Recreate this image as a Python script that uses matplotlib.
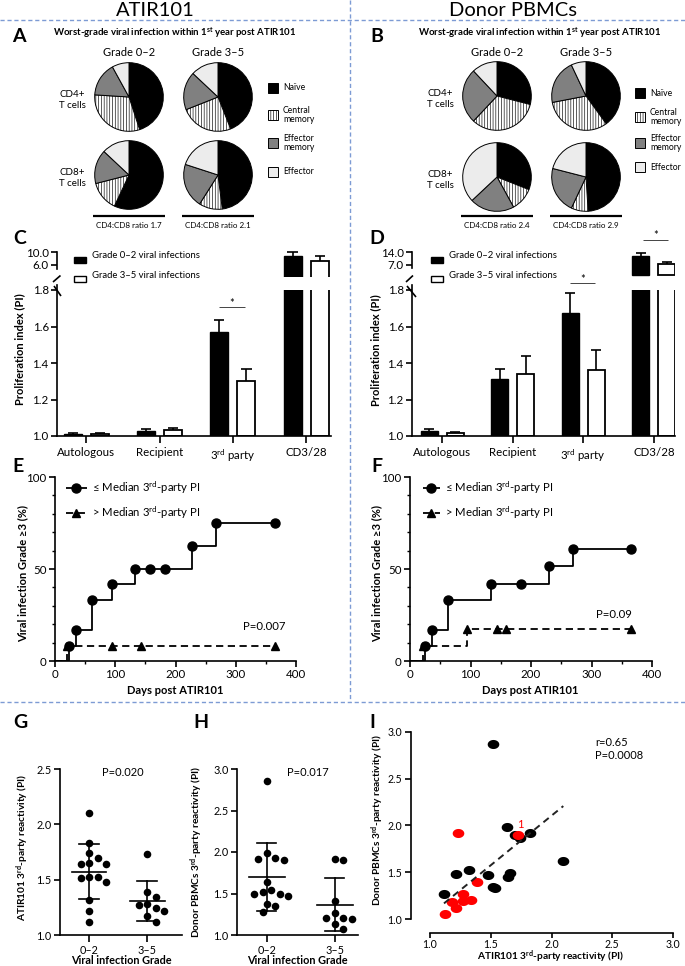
import numpy as np
import matplotlib
matplotlib.use('Agg')
import matplotlib.pyplot as plt
from matplotlib.path import Path
from matplotlib.patches import Rectangle

plt.rcParams['font.family'] = ['Lato', 'DejaVu Sans']
plt.rcParams['mathtext.fontset'] = 'custom'
plt.rcParams['mathtext.rm'] = 'Lato'
plt.rcParams['mathtext.bf'] = 'Lato:bold'
plt.rcParams['mathtext.it'] = 'Lato:italic'
plt.rcParams['hatch.linewidth'] = 0.45

# ---------------- data ----------------
pie_subsets = ['Naïve', 'Central\nmemory', 'Effector\nmemory', 'Effector']
pie_grades = ['Grade 0–2', 'Grade 3–5']
a_cd4_g02 = [45, 31, 16, 8]
a_cd4_g35 = [44, 25, 18, 13]
a_cd8_g02 = [57, 14, 16, 13]
a_cd8_g35 = [48, 11, 21, 20]
b_cd4_g02 = [29, 33, 26, 12]
b_cd4_g35 = [40, 32, 21, 7]
b_cd8_g02 = [31, 11, 21, 37]
b_cd8_g35 = [49, 8, 22, 21]
a_ratios = ['CD4:CD8 ratio 1.7', 'CD4:CD8 ratio 2.1']
b_ratios = ['CD4:CD8 ratio 2.4', 'CD4:CD8 ratio 2.9']

bar_categories = ['Autologous', 'Recipient', '3$^{\\mathrm{rd}}$ party', 'CD3/28']
c_g02 = [1.010, 1.030, 1.570, 8.7]
c_g02_err = [0.006, 0.010, 0.065, 1.3]
c_g35 = [1.012, 1.035, 1.302, 7.3]
c_g35_err = [0.006, 0.008, 0.065, 1.5]
d_g02 = [1.030, 1.310, 1.675, 11.8]
d_g02_err = [0.010, 0.055, 0.110, 1.8]
d_g35 = [1.015, 1.340, 1.360, 7.4]
d_g35_err = [0.006, 0.100, 0.110, 1.1]

# Kaplan-Meier style curves (days, % with grade >=3)
e_le_days = [0, 23, 35, 62, 95, 133, 228, 268, 365]
e_le_pct = [0, 8.3, 16.7, 33.3, 41.7, 50.0, 62.5, 75.0, 75.0]
e_le_mark_days = [23, 35, 62, 95, 133, 158, 183, 228, 268, 365]
e_le_mark_pct = [8.3, 16.7, 33.3, 41.7, 50.0, 50.0, 50.0, 62.5, 75.0, 75.0]
e_gt_days = [0, 20, 365]
e_gt_pct = [0, 8.3, 8.3]
e_gt_mark_days = [20, 94, 143, 365]
e_gt_mark_pct = [8.3, 8.3, 8.3, 8.3]

f_le_days = [0, 25, 36, 62, 134, 229, 270, 365]
f_le_pct = [0, 8.3, 16.7, 33.3, 41.7, 51.4, 61.1, 61.1]
f_le_mark_days = [25, 36, 62, 134, 183, 229, 270, 365]
f_le_mark_pct = [8.3, 16.7, 33.3, 41.7, 41.7, 51.4, 61.1, 61.1]
f_gt_days = [0, 22, 94, 365]
f_gt_pct = [0, 8.3, 17.4, 17.4]
f_gt_mark_days = [22, 94, 143, 159, 365]
f_gt_mark_pct = [8.3, 17.4, 17.4, 17.4, 17.4]

grade_labels = ['0–2', '3–5']
g_g02 = [2.10, 1.83, 1.74, 1.70, 1.65, 1.64, 1.645, 1.525, 1.52, 1.515, 1.48, 1.32, 1.22, 1.12]
g_g35 = [1.73, 1.39, 1.34, 1.28, 1.27, 1.24, 1.22, 1.17, 1.12]
h_g02 = [2.86, 1.99, 1.93, 1.91, 1.90, 1.64, 1.54, 1.52, 1.49, 1.49, 1.47, 1.37, 1.35, 1.28]
h_g35 = [1.92, 1.90, 1.41, 1.27, 1.21, 1.20, 1.19, 1.13, 1.07]

i_black_x = [1.516, 1.631, 1.700, 1.741, 1.823, 2.097, 1.214, 1.324, 1.480, 1.658, 1.645, 1.521, 1.535, 1.115]
i_black_y = [2.865, 1.979, 1.897, 1.861, 1.915, 1.623, 1.480, 1.523, 1.470, 1.488, 1.452, 1.345, 1.327, 1.263]
i_red_x = [1.233, 1.727, 1.384, 1.269, 1.178, 1.274, 1.337, 1.214, 1.123]
i_red_y = [1.915, 1.897, 1.399, 1.263, 1.178, 1.192, 1.199, 1.114, 1.057]
i_fit_x = [1.115, 2.097]
i_fit_y = [1.167, 2.206]

# ---------------- figure helpers ----------------
W, H = 685, 966
fig = plt.figure(figsize=(W / 100, H / 100), dpi=100)


def ax_px(x0, y0, x1, y1, **kw):
    return fig.add_axes([x0 / W, 1 - y1 / H, (x1 - x0) / W, (y1 - y0) / H], **kw)


ov = fig.add_axes([0, 0, 1, 1], zorder=20)
ov.set_xlim(0, W)
ov.set_ylim(H, 0)
ov.axis('off')
ov.patch.set_alpha(0)


def T(x, y, s, **kw):
    kw.setdefault('ha', 'center')
    kw.setdefault('va', 'center')
    ov.text(x, y, s, **kw)


def L(xs, ys, **kw):
    kw.setdefault('color', 'black')
    ov.plot(xs, ys, solid_capstyle='butt', **kw)


TICK = 8.3


def style(ax, lw=1.2, fs=TICK):
    for s in ['top', 'right']:
        ax.spines[s].set_visible(False)
    for s in ['left', 'bottom']:
        ax.spines[s].set_linewidth(lw)
    ax.tick_params(direction='out', length=4, width=lw, labelsize=fs, pad=2)
    ax.patch.set_alpha(0)


SEP = '#7d9bd4'
# separators
L([0, W], [20, 20], color=SEP, lw=1, ls=(0, (3, 2)))
L([0, W], [702, 702], color=SEP, lw=1, ls=(0, (3, 2)))
L([350, 350], [0, 702], color=SEP, lw=1, ls=(0, (3, 2)))
T(155, 10, 'ATIR101', fontsize=14.5)
T(513, 10, 'Donor PBMCs', fontsize=14.5)

# ---------------- pies ----------------
pie_colors = ['black', 'white', '#808080', '#ececec']


def draw_pie(cx, cy, r, fr):
    ax = ax_px(cx - r, cy - r, cx + r, cy + r)
    wedges, _ = ax.pie(fr, colors=pie_colors, startangle=90, counterclock=False,
                       wedgeprops=dict(edgecolor='black', linewidth=0.7))
    wedges[1].set_hatch('||||||')
    ax.set_xlim(-1.02, 1.02)
    ax.set_ylim(-1.02, 1.02)
    ax.axis('off')


def pie_block(x_l, cx1, cx2, cy1, cy2, sets, ratios, title, letter, lx, ly, leg_x, leg_ys, tx):
    r = 35
    draw_pie(cx1, cy1, r, sets[0])
    draw_pie(cx2, cy1, r, sets[1])
    draw_pie(cx1, cy2, r, sets[2])
    draw_pie(cx2, cy2, r, sets[3])
    T(lx, ly, letter, fontsize=14, fontweight='bold')
    T(tx, 33, title, fontsize=6.9, fontweight='bold')
    T(cx1, 52, pie_grades[0], fontsize=8)
    T(cx2, 52, pie_grades[1], fontsize=8)
    T(x_l, cy1 + 3, 'CD4+\nT cells', fontsize=7, linespacing=1.3)
    T(x_l, cy2 + 3, 'CD8+\nT cells', fontsize=7, linespacing=1.3)
    for j, (lab, yy) in enumerate(zip(pie_subsets, leg_ys)):
        rect = Rectangle((leg_x, yy - 5), 10, 10, facecolor=pie_colors[j], edgecolor='black',
                         lw=0.7, hatch='||||||' if j == 1 else None)
        ov.add_patch(rect)
        T(leg_x + 15, yy, lab, fontsize=6.2, ha='left', linespacing=1.1)
    for cx, rt in zip([cx1, cx2], ratios):
        L([cx - 36, cx + 36], [216, 216], lw=1.6)
        T(cx, 225, rt, fontsize=5.8)


pie_block(72, 129, 218, 97, 175, [a_cd4_g02, a_cd4_g35, a_cd8_g02, a_cd8_g35], a_ratios,
          'Worst-grade viral infection within 1$^{\\mathbf{st}}$ year post ATIR101', 'A', 19, 36,
          268, [88, 115, 143, 172], 175)
pie_block(440, 497, 586, 96, 177, [b_cd4_g02, b_cd4_g35, b_cd8_g02, b_cd8_g35], b_ratios,
          'Worst-grade viral infection within 1$^{\\mathbf{st}}$ year post ATIR101', 'B', 377, 37,
          635, [93, 117, 143, 167], 540)

# ---------------- bar panels ----------------


def up_err(ax, xs, ys, es, capw):
    for x, y, e in zip(xs, ys, es):
        ax.plot([x, x], [y, y + e], color='black', lw=1.2, solid_capstyle='butt')
        ax.plot([x - capw, x + capw], [y + e, y + e], color='black', lw=1.2, solid_capstyle='butt')


def bar_panel(xl, xr, xlim, top_lim, top_ticks, top_bounds, g02, g02e, g35, g35e, off, bw):
    axt = ax_px(xl, 249, xr, 277)
    axb = ax_px(xl, 290, xr, 436)
    x = np.arange(len(bar_categories))
    g02 = np.array(g02)
    g35 = np.array(g35)
    for ax, sel in ((axt, lambda v: v > 1.8), (axb, lambda v: v > 0)):
        m1 = sel(g02)
        m2 = sel(g35)
        ax.bar(x[m1] - off, g02[m1] - 1, bottom=1, width=bw, color='black', edgecolor='black', lw=1.0)
        ax.bar(x[m2] + off, g35[m2] - 1, bottom=1, width=bw, color='white', edgecolor='black', lw=1.3)
        up_err(ax, x[m1] - off, g02[m1], np.array(g02e)[m1], 0.07)
        up_err(ax, x[m2] + off, g35[m2], np.array(g35e)[m2], 0.07)
        style(ax)
        ax.set_xlim(*xlim)
    axt.set_ylim(*top_lim)
    axt.set_yticks(top_ticks)
    axt.set_yticklabels(['%.1f' % t for t in top_ticks])
    axt.spines['bottom'].set_visible(False)
    axt.spines['left'].set_bounds(*top_bounds)
    axt.set_xticks([])
    axb.set_ylim(1.0, 1.8)
    axb.set_yticks([1.0, 1.2, 1.4, 1.6, 1.8])
    axb.set_yticklabels(['1.0', '1.2', '1.4', '1.6', '1.8'])
    axb.spines['left'].set_bounds(1.0, 1.83)
    axb.set_xticks(x)
    axb.set_xticklabels(bar_categories, fontsize=TICK)
    axb.tick_params(axis='x', length=5, pad=3)
    return axt, axb


bar_panel(57, 331, (-0.4, 3.34), (2, 11), [6.0, 10.0], (4.7, 10), c_g02, c_g02_err, c_g35, c_g35_err, 0.185, 0.245)
bar_panel(412, 675, (-0.43, 3.3), (0, 15.75), [7.0, 14.0], (5.3, 14), d_g02, d_g02_err, d_g35, d_g35_err, 0.185, 0.24)

T(20, 238, 'C', fontsize=14, fontweight='bold')
T(377, 239, 'D', fontsize=14, fontweight='bold')
T(20, 349, 'Proliferation index (PI)', fontsize=8, fontweight='bold', rotation=90)
T(376, 350, 'Proliferation index (PI)', fontsize=8, fontweight='bold', rotation=90)
for bx in (74, 431):
    ov.add_patch(Rectangle((bx, 256.5), 12, 6.5, facecolor='black', edgecolor='black', lw=1))
    ov.add_patch(Rectangle((bx, 275.5), 12, 6.5, facecolor='white', edgecolor='black', lw=1))
    T(bx + 18, 256, 'Grade 0–2 viral infections', fontsize=6.8, ha='left')
    T(bx + 18, 275, 'Grade 3–5 viral infections', fontsize=6.8, ha='left')
# axis breaks
L([53, 60.5], [282, 275.5], lw=1.2)
L([54, 61], [286, 296], lw=1.2)
L([406, 413], [282, 275.5], lw=1.2)
L([407, 416], [286, 297], lw=1.2)
# significance
L([219, 245], [307, 307], lw=0.7, color='#444444')
T(232, 303, '*', fontsize=8)
L([570, 595], [283, 283], lw=0.7, color='#444444')
T(583, 279, '*', fontsize=8)
L([643, 668], [240, 240], lw=0.7, color='#444444')
T(656, 236, '*', fontsize=8)

# ---------------- KM panels ----------------
dash = (0, (4, 2.5))


def km_panel(xl, xr, le_d, le_p, le_md, le_mp, gt_d, gt_p, gt_md, gt_mp):
    ax = ax_px(xl, 477, xr, 661)
    ax.step(le_d, le_p, where='post', color='black', lw=1.3)
    ax.plot(le_md, le_mp, 'o', color='black', ms=6.5, clip_on=False)
    ax.step(gt_d, gt_p, where='post', color='black', lw=1.3, ls=dash)
    ax.plot(gt_md, gt_mp, '^', color='black', ms=5.5, clip_on=False)
    ax.set_xlim(0, 400)
    ax.set_ylim(0, 100)
    style(ax)
    ax.set_xticks([0, 100, 200, 300, 400])
    ax.set_xticks([50, 150, 250, 350], minor=True)
    ax.set_yticks([0, 50, 100])
    ax.set_yticks(np.arange(10, 100, 10), minor=True)
    ax.tick_params(which='minor', direction='out', length=2.5, width=1.0)
    return ax


km_panel(55, 296, e_le_days, e_le_pct, e_le_mark_days, e_le_mark_pct,
         e_gt_days, e_gt_pct, e_gt_mark_days, e_gt_mark_pct)
km_panel(410, 652, f_le_days, f_le_pct, f_le_mark_days, f_le_mark_pct,
         f_gt_days, f_gt_pct, f_gt_mark_days, f_gt_mark_pct)

leg1 = '≤ Median 3$^{\\mathrm{rd}}$-party PI'
leg2 = '> Median 3$^{\\mathrm{rd}}$-party PI'
for (x0, x1, tx) in [(66, 87, 92), (423, 440, 445)]:
    L([x0, x1], [488, 488], lw=1.3)
    ov.plot([(x0 + x1) / 2], [488], 'o', color='black', ms=6.5)
    T(tx, 488, leg1, fontsize=8.2, ha='left')
    L([x0, x1], [513, 513], lw=1.3, ls=dash)
    ov.plot([(x0 + x1) / 2], [513], '^', color='black', ms=5.5)
    T(tx, 513, leg2, fontsize=8.2, ha='left')
T(18, 466, 'E', fontsize=14, fontweight='bold')
T(377, 467, 'F', fontsize=14, fontweight='bold')
T(23, 573, 'Viral infection Grade ≥3 (%)', fontsize=8, fontweight='bold', rotation=90)
T(377, 573, 'Viral infection Grade ≥3 (%)', fontsize=8, fontweight='bold', rotation=90)
T(175, 690, 'Days post ATIR101', fontsize=8, fontweight='bold')
T(530, 690, 'Days post ATIR101', fontsize=8, fontweight='bold')
T(243, 626, 'P=0.007', fontsize=8.2, ha='left')
T(614, 615, 'P=0.09', fontsize=8.2)

# ---------------- dot plots G, H ----------------


def swarm(vals, center, px_per_x, px_per_y, d=8.5):
    vals = np.asarray(vals, float)
    xs = np.zeros(len(vals))
    placed = []
    cands = [0.0]
    for k in range(1, 12):
        cands += [k * d / 2, -k * d / 2]
    for i in np.argsort(-vals):
        yp = vals[i] * px_per_y
        for c in cands:
            if all(np.hypot(c - p[0], yp - p[1]) >= d * 0.98 for p in placed):
                break
        placed.append((c, yp))
        xs[i] = center + c / px_per_x
    return xs


def dot_panel(xl, xr, yt, yb, ylim, yticks, groups, xlim, half_mean, half_cap):
    ax = ax_px(xl, yt, xr, yb)
    ax.set_xlim(*xlim)
    ax.set_ylim(*ylim)
    ppx = (xr - xl) / (xlim[1] - xlim[0])
    ppy = (yb - yt) / (ylim[1] - ylim[0])
    for gi, vals in enumerate(groups):
        xs = swarm(vals, gi, ppx, ppy)
        ax.scatter(xs, vals, s=30, color='black', zorder=3, clip_on=False, linewidths=0)
        m = np.mean(vals)
        sd = np.std(vals, ddof=1)
        ax.plot([gi - half_mean, gi + half_mean], [m, m], color='black', lw=1.2, zorder=4)
        ax.plot([gi, gi], [m - sd, m + sd], color='black', lw=1.2, zorder=4)
        for yy in (m - sd, m + sd):
            ax.plot([gi - half_cap, gi + half_cap], [yy, yy], color='black', lw=1.2, zorder=4)
    style(ax, fs=7.8)
    ax.set_yticks(yticks)
    ax.set_yticklabels(['%.1f' % t for t in yticks])
    ax.set_xticks([0, 1])
    ax.set_xticklabels(grade_labels)
    ax.tick_params(axis='x', length=5)
    return ax


dot_panel(60, 182, 769, 935, (1.0, 2.5), [1.0, 1.5, 2.0, 2.5], [g_g02, g_g35], (-0.5, 1.6), 0.30, 0.17)
dot_panel(237, 358, 769, 935, (1.0, 3.0), [1.0, 1.5, 2.0, 2.5, 3.0], [h_g02, h_g35], (-0.44, 1.34), 0.26, 0.14)
T(20, 723, 'G', fontsize=14, fontweight='bold')
T(201, 723, 'H', fontsize=14, fontweight='bold')
T(123, 772, 'P=0.020', fontsize=8)
T(308, 772, 'P=0.017', fontsize=8)
T(23, 847, 'ATIR101 3$^{\\mathbf{rd}}$-party reactivity (PI)', fontsize=7.3, fontweight='bold', rotation=90)
T(197, 852, 'Donor PBMCs 3$^{\\mathbf{rd}}$-party reactivity (PI)', fontsize=7.3, fontweight='bold', rotation=90)
T(121, 960, 'Viral infection Grade', fontsize=7.8, fontweight='bold')
T(297, 960, 'Viral infection Grade', fontsize=7.8, fontweight='bold')

# ---------------- correlation I ----------------
axi = ax_px(410.7, 731.7, 673, 933)
axi.set_xlim(0.841, 3.0)
axi.set_ylim(0.851, 3.0)
th = np.linspace(0, 2 * np.pi, 60)
ell = Path(np.column_stack([np.cos(th), 0.78 * np.sin(th)]), closed=True)
axi.scatter(i_black_x, i_black_y, marker=ell, s=70, color='black', linewidths=0, zorder=3)
axi.scatter(i_red_x, i_red_y, marker=ell, s=70, color='#ff0000', linewidths=0, zorder=3)
axi.plot(i_fit_x, i_fit_y, color='#222222', lw=1.4, ls=(0, (3.5, 2.5)), zorder=4)
style(axi, fs=7.6)
axi.tick_params(axis='x', pad=1, length=3.5)
axi.spines['left'].set_bounds(1.0, 3.0)
axi.spines['bottom'].set_bounds(1.0, 3.0)
axi.set_xticks([1.0, 1.5, 2.0, 2.5, 3.0])
axi.set_xticklabels(['1.0', '1.5', '2.0', '2.5', '3.0'])
axi.set_yticks([1.0, 1.5, 2.0, 2.5, 3.0])
axi.set_yticklabels(['1.0', '1.5', '2.0', '2.5', '3.0'])
T(372, 722, 'I', fontsize=14, fontweight='bold')
T(595, 737, 'r=0.65\nP=0.0008', fontsize=8, ha='left', va='top', linespacing=1.25)
T(520, 824, '1', fontsize=8, color='#ff0000')
T(378, 820, 'Donor PBMCs 3$^{\\mathbf{rd}}$-party reactivity (PI)', fontsize=7.3, fontweight='bold', rotation=90)
T(551, 957, 'ATIR101 3$^{\\mathbf{rd}}$-party reactivity (PI)', fontsize=7.3, fontweight='bold')

fig.savefig('out.png', dpi=100)
